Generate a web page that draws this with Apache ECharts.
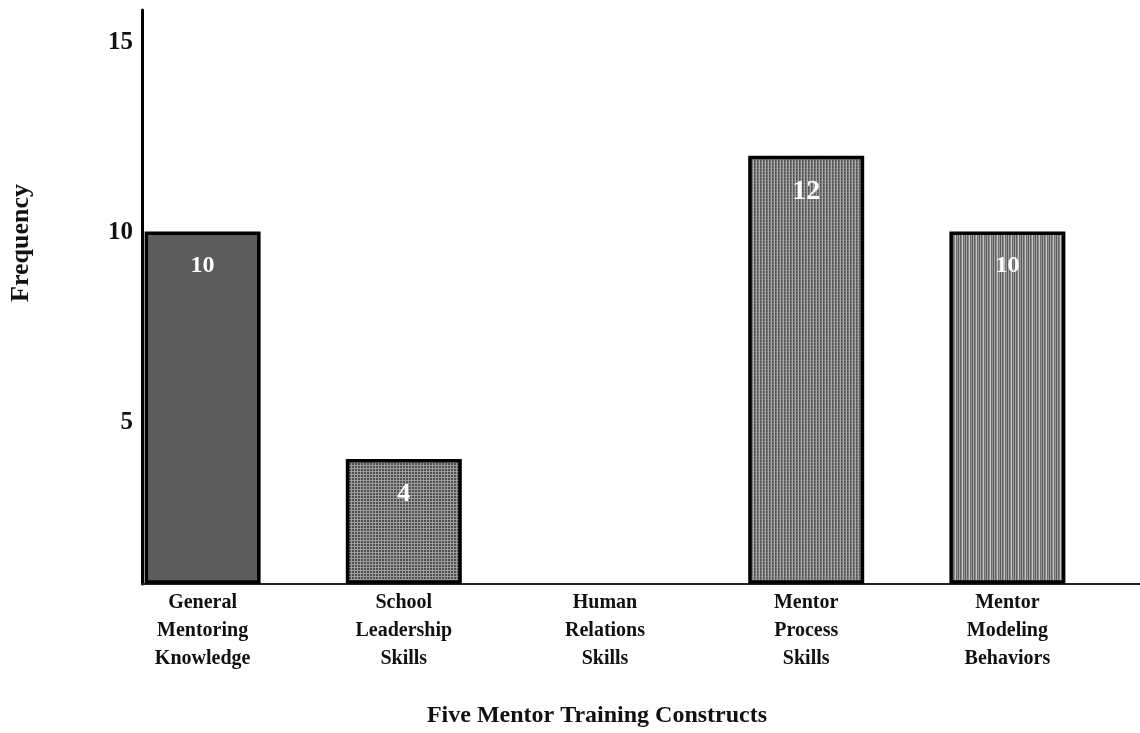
<!DOCTYPE html>
<html>
<head>
<meta charset="utf-8">
<script src="https://cdn.jsdelivr.net/npm/echarts@6/dist/echarts.min.js"></script>
<style>
html,body{margin:0;padding:0;background:#fff;}
#chart{width:1140px;height:733px;}
</style>
</head>
<body>
<div id="chart"></div>
<script>
const categories = [
  'General\nMentoring\nKnowledge',
  'School\nLeadership\nSkills',
  'Human\nRelations\nSkills',
  'Mentor\nProcess\nSkills',
  'Mentor\nModeling\nBehaviors'
];
const frequencies = [10, 4, 0, 12, 10];
const yTickLabels = [5, 10, 15];
const xTitle = 'Five Mentor Training Constructs';
const yTitle = 'Frequency';

const FONT = "'Liberation Serif','Times New Roman',serif";
const Y_MIN = 0.75, Y_MAX = 15.85;

function pattern(w, h, draw) {
  const c = document.createElement('canvas');
  c.width = w; c.height = h;
  draw(c.getContext('2d'));
  return { image: c, repeat: 'repeat' };
}
function stripes(cols, rowLine) {
  return pattern(cols.length, 3, ctx => {
    cols.forEach((col, i) => { ctx.fillStyle = col; ctx.fillRect(i, 0, 1, 3); });
    if (rowLine) { ctx.fillStyle = rowLine; ctx.fillRect(0, 0, cols.length, 1); }
  });
}
const fills = [
  '#5c5c5c',
  pattern(3, 3, ctx => {
    ctx.fillStyle = '#505050'; ctx.fillRect(0, 0, 3, 3);
    ctx.fillStyle = '#9c9c9c'; ctx.fillRect(0, 0, 1, 3); ctx.fillRect(0, 0, 3, 1);
  }),
  '#777777',
  stripes(['#aaaaaa', '#505050', '#707070'], 'rgba(160,160,160,0.45)'),
  stripes(['#a8a8a8', '#626262', '#888888', '#c4c4c4', '#6c6c6c', '#969696', '#585858'])
];
const labelSizes = [24, 26, 24, 28, 24];

const chart = echarts.init(document.getElementById('chart'));
chart.setOption({
  backgroundColor: '#ffffff',
  animation: false,
  grid: [
    { left: 102, right: 32, top: 10, bottom: 149 },
    { left: 142, right: 0, top: 10, bottom: 149 }
  ],
  xAxis: [
    {
      type: 'category', gridIndex: 0, data: categories,
      axisLine: { show: false }, axisTick: { show: false },
      axisLabel: { interval: 0, margin: 7, color: '#111', fontFamily: FONT, fontWeight: 'bold', fontSize: 20, lineHeight: 28 },
      name: xTitle, nameLocation: 'middle', nameGap: 122,
      nameTextStyle: { color: '#111', fontFamily: FONT, fontWeight: 'bold', fontSize: 24, padding: [0, 16, 0, 0] }
    },
    {
      type: 'value', gridIndex: 1, min: 0, max: 1,
      axisLine: { show: true, lineStyle: { color: '#222', width: 2 } },
      axisTick: { show: false }, axisLabel: { show: false }, splitLine: { show: false }
    }
  ],
  yAxis: [
    {
      type: 'value', gridIndex: 0, min: Y_MIN, max: Y_MAX, show: false, splitLine: { show: false }
    },
    {
      type: 'value', gridIndex: 1, min: Y_MIN, max: Y_MAX,
      axisLine: { show: true, lineStyle: { color: '#000', width: 3 } },
      axisTick: { show: false }, splitLine: { show: false },
      axisLabel: { customValues: yTickLabels, margin: 9, color: '#111', fontFamily: FONT, fontWeight: 'bold', fontSize: 25 },
      name: yTitle, nameLocation: 'middle', nameRotate: 90, nameGap: 108,
      nameTextStyle: { color: '#111', fontFamily: FONT, fontWeight: 'bold', fontSize: 26, padding: [0, 0, 0, 108] }
    }
  ],
  series: [{
    type: 'bar', xAxisIndex: 0, yAxisIndex: 0, barWidth: 116,
    data: frequencies.map((v, i) => ({
      value: v,
      itemStyle: { color: fills[i], borderColor: '#000', borderWidth: 3.5 },
      label: { fontSize: labelSizes[i] }
    })),
    label: {
      show: true, position: 'insideTop', distance: 22, color: '#fff',
      fontFamily: FONT, fontWeight: 'bold',
      formatter: p => (p.value ? String(p.value) : '')
    }
  }]
});
</script>
</body>
</html>
